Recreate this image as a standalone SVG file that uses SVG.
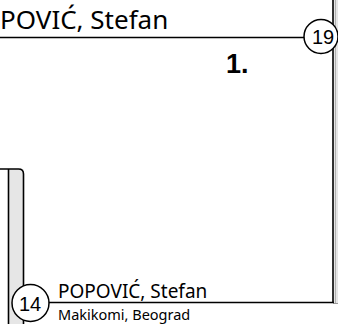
<svg xmlns="http://www.w3.org/2000/svg" width="338" height="324" viewBox="0 0 338 324">
  <style>
    .ln { stroke: #000; stroke-width: 1.6; fill: none; }
    .strip { fill: #e6e6e6; }
    .badge circle { fill: #fff; stroke: #000; stroke-width: 1.5; }
    .badge text { font-family: "Liberation Sans", Arial, sans-serif; font-size: 20px; text-anchor: middle; fill: #000; }
    .name { font-family: "Noto Sans", "DejaVu Sans", sans-serif; fill: #000; }
    .num { font-family: "Liberation Sans", Arial, sans-serif; font-weight: bold; font-size: 27px; fill: #000; }
  </style>
  <rect width="338" height="324" fill="#fff"/>
  <g id="lane-right">
    <rect class="strip" x="333" y="-2" width="7" height="305"/>
    <line x1="335.5" y1="-2" x2="335.5" y2="303" stroke="#b0b0b0" stroke-width="1"/>
    <line x1="333" y1="303.5" x2="338" y2="303.5" stroke="#999" stroke-width="1"/>
    <line class="ln" x1="333" y1="-2" x2="333" y2="303"/>
  </g>
  <g id="lane-left">
    <rect class="strip" x="8.5" y="169" width="15" height="160"/>
    <path class="ln" d="M -10 169 H 18.5 Q 23.5 169 23.5 174 V 330"/>
    <line class="ln" x1="8.5" y1="169" x2="8.5" y2="330"/>
  </g>
  <g id="connectors">
    <line class="ln" x1="-2" y1="37.5" x2="304" y2="37.5"/>
    <line class="ln" x1="48" y1="302.5" x2="333.8" y2="302.5"/>
  </g>
  <g id="node-top">
    <text class="name" x="0" y="28.5" font-size="26">POVIĆ, Stefan</text>
    <text class="num" x="226" y="73">1.</text>
  </g>
  <g id="badge-19" class="badge">
    <circle cx="321" cy="36.5" r="17"/>
    <text x="323" y="43.5">19</text>
  </g>
  <g id="node-bottom">
    <text class="name" x="58" y="298" font-size="19">POPOVIĆ, Stefan</text>
    <text class="name" x="58" y="319.5" font-size="14.5">Makikomi, Beograd</text>
  </g>
  <g id="badge-14" class="badge">
    <circle cx="30.5" cy="303" r="18.5"/>
    <text x="30" y="311">14</text>
  </g>
</svg>
